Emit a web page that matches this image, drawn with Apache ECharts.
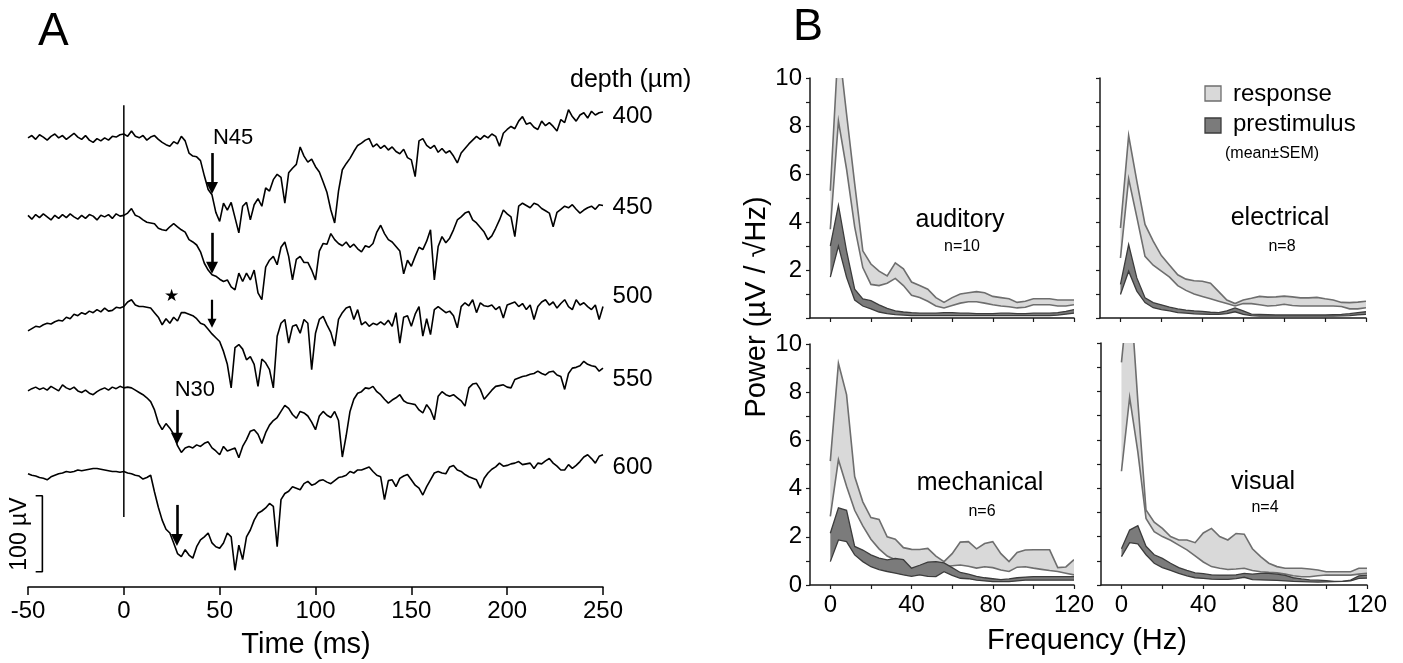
<!DOCTYPE html>
<html><head><meta charset="utf-8">
<script src="https://cdn.jsdelivr.net/npm/echarts@6/dist/echarts.min.js"></script>
<style>html,body{margin:0;padding:0;background:#fff}#c{width:1403px;height:663px}</style>
</head><body><div id="c"></div>
<script>
// ================= DATA =================
// Panel A: field potentials (µV, relative to each trace's pre-stimulus level), sampled every 2 ms from -50 to 250 ms
const timeStart = -50, timeStep = 2;
const depthLabels = ['400', '450', '500', '550', '600'];
const trace400 = [0,3,-2,4,1,-3,2,5,0,3, -2,2,6,1,-2,3,-3,-6,-1,-4, 0,-3,2,1,4,5,2,9,2,0,
  3,-3,1,3,-2,-6,-9,-11,-5,-8, 2,-4,-20,-24,-25,-30,-50,-68,-75,-98,
  -110,-86,-95,-85,-105,-125,-90,-85,-108,-88, -80,-90,-66,-70,-55,-48,-52,-86,-46,-40,
  -35,-12,-24,-32,-28,-38,-45,-58,-72,-95, -112,-70,-42,-34,-27,-18,-10,-7,-3,-1,
  -12,-8,-14,-10,-16,-12,-18,-21,-15,-26, -29,-51,-4,-1,-10,-14,-10,-19,-14,-20,
  -17,-24,-33,-20,-14,-8,-3,2,-2,3, 0,5,2,-11,6,11,15,12,22,28,
  18,20,14,11,22,16,20,15,9,24, 20,37,28,22,30,33,26,35,30,33, 34];
const trace450 = [2,-3,3,-1,4,0,-4,2,-2,3, -1,4,0,-3,2,-2,3,1,-4,2, 0,3,-2,4,1,2,5,11,2,0,
  -4,-7,-8,-9,-15,-17,-18,-13,-9,-13, -17,-20,-30,-33,-37,-46,-61,-70,-76,-78,
  -82,-85,-83,-92,-96,-74,-85,-74,-83,-70, -100,-109,-66,-57,-52,-63,-40,-33,-52,-83,
  -56,-52,-60,-60,-70,-83,-45,-35,-36,-22, -30,-35,-38,-33,-40,-36,-42,-46,-38,-40,
  -35,-20,-11,-22,-30,-33,-39,-45,-75,-57, -65,-52,-40,-43,-32,-17,-83,-39,-26,-34,
  -28,-17,-4,0,5,7,-4,-8,-14,-20, -30,-25,-15,-4,9,4,0,-26,14,18,
  15,12,18,16,11,8,5,-13,6,10, 14,12,16,10,5,9,12,14,10,16, 15];
const trace500 = [-28,-25,-22,-23,-20,-18,-19,-16,-14,-15, -10,-12,-6,-8,-4,-6,-2,-4,0,-3, 2,-2,-1,3,2,4,10,13,6,4,
  4,3,2,-4,-10,-20,-12,-18,-10,-15, -4,-4,-6,-8,-12,-18,-20,-26,-32,-37,
  -42,-55,-72,-103,-50,-46,-52,-66,-62,-72, -101,-65,-70,-79,-103,-35,-18,-13,-44,-22,
  -20,-31,-13,-18,-79,-31,-13,-9,-20,-30, -48,-13,-4,2,4,-13,0,-20,-16,-22,
  -18,-20,-16,-20,-14,-22,-4,-44,-10,-8, -22,-6,4,-35,-12,-33,0,4,0,-4,
  -2,-8,-24,4,9,5,13,-4,9,5, 4,6,0,4,-11,6,8,10,4,8,
  0,6,-13,4,10,13,6,10,2,8, 13,4,0,13,6,9,4,0,6,-13, 4];
const trace550 = [-3,0,2,-1,1,-2,3,0,-3,5, 1,-1,2,-3,-5,-2,-6,-8,-4,-1, 1,-2,2,0,3,1,2,1,-2,-5,
  -8,-12,-17,-28,-45,-54,-46,-52,-60,-75, -84,-78,-76,-78,-74,-76,-72,-70,-78,-82,
  -87,-76,-82,-80,-78,-91,-76,-67,-56,-54, -60,-72,-58,-48,-42,-38,-30,-22,-26,-34,
  -39,-30,-32,-36,-44,-54,-36,-30,-35,-38, -30,-42,-90,-62,-30,-14,-6,-4,1,0,
  3,-4,-8,-14,-19,-15,-12,-8,-16,-19, -20,-21,-28,-32,-21,-28,-41,-10,-4,-8,
  -10,-8,-12,-16,-23,1,6,7,-1,-14, -8,-2,3,4,5,2,1,12,14,16,
  17,19,20,23,20,18,22,23,18,16, -1,20,27,28,30,36,32,30,29,23, 27];
const trace600 = [-1,-3,-4,-6,-7,-9,-5,-3,-1,0, 2,1,2,4,3,4,5,6,6,5, 4,3,2,2,1,2,0,-1,-3,-4,
  -8,-6,-3,-25,-45,-62,-74,-79,-92,-106, -110,-101,-108,-112,-97,-88,-84,-79,-92,-97,
  -99,-92,-79,-84,-128,-95,-114,-84,-75,-62, -53,-50,-46,-40,-44,-97,-35,-27,-24,-18,
  -20,-22,-14,-11,-16,-14,-10,-9,-12,-14, -10,-6,-5,-3,2,0,4,4,6,8,
  2,-3,-5,-35,-10,-9,-18,-7,-4,-2, -9,-16,-20,-29,-18,-9,0,2,0,-1,
  8,10,4,2,-2,-5,-7,-9,-20,-7, 0,5,8,13,9,10,12,13,15,11,
  12,13,6,13,12,16,19,13,9,4, 4,11,6,10,15,21,24,19,13,22, 24];
const timeTicks = [-50, 0, 50, 100, 150, 200, 250];

// Panel B: power spectra, mean ± SEM bands (µV/√Hz) at 4-Hz bins
const freq = [0,4,8,12,16,20,24,28,32,36,40,44,48,52,56,60,64,68,72,76,80,84,88,92,96,100,104,108,112,116,120];
const audRespHi = [5.3,11.5,8.5,5.6,2.8,2.25,1.95,1.75,2.3,2.05,1.5,1.35,1.2,0.85,0.65,0.85,1.0,1.05,1.1,1.05,0.9,0.85,0.8,0.65,0.7,0.8,0.8,0.8,0.75,0.75,0.75];
const audRespLo = [3.7,8.2,6.2,3.8,2.1,1.4,1.35,1.45,1.65,1.35,0.95,0.85,0.7,0.5,0.42,0.52,0.62,0.68,0.68,0.62,0.55,0.5,0.47,0.42,0.45,0.55,0.55,0.55,0.5,0.5,0.55];
const audPreHi = [3.0,4.7,2.8,1.2,0.8,0.72,0.55,0.4,0.3,0.25,0.22,0.2,0.2,0.2,0.22,0.22,0.2,0.2,0.18,0.18,0.18,0.2,0.2,0.18,0.18,0.2,0.2,0.2,0.22,0.28,0.35];
const audPreLo = [1.7,3.0,1.7,0.75,0.5,0.38,0.25,0.18,0.14,0.12,0.1,0.1,0.1,0.1,0.1,0.1,0.1,0.1,0.1,0.1,0.1,0.1,0.1,0.1,0.1,0.1,0.1,0.1,0.12,0.16,0.2];

const eleRespHi = [3.75,7.6,5.7,3.9,3.2,2.6,2.2,1.8,1.62,1.55,1.53,1.45,1.1,0.75,0.6,0.75,0.82,0.9,0.87,0.88,0.91,0.88,0.84,0.84,0.86,0.8,0.75,0.65,0.64,0.66,0.7];
const eleRespLo = [2.5,5.8,4.2,2.57,2.2,1.95,1.7,1.35,1.15,1.0,0.9,0.8,0.7,0.6,0.5,0.6,0.6,0.55,0.5,0.52,0.57,0.52,0.5,0.5,0.5,0.5,0.5,0.48,0.38,0.38,0.43];
const elePreHi = [1.4,3.06,1.67,0.84,0.64,0.55,0.45,0.38,0.33,0.3,0.28,0.24,0.22,0.3,0.42,0.3,0.16,0.15,0.14,0.13,0.13,0.13,0.13,0.13,0.13,0.13,0.14,0.15,0.18,0.22,0.26];
const elePreLo = [0.98,1.95,1.12,0.64,0.43,0.35,0.3,0.22,0.2,0.17,0.16,0.15,0.15,0.18,0.26,0.15,0.1,0.08,0.08,0.08,0.08,0.08,0.08,0.08,0.08,0.08,0.08,0.09,0.1,0.13,0.15];

const mecRespHi = [5.14,9.2,7.9,4.5,3.45,2.8,2.72,2.0,1.9,1.55,1.48,1.47,1.52,1.2,0.97,1.3,1.78,1.8,1.5,1.72,1.8,1.3,0.97,1.35,1.45,1.46,1.46,1.46,0.72,0.75,1.05];
const mecRespLo = [2.85,5.2,4.1,3.1,2.45,1.9,1.5,1.2,1.05,0.85,0.56,0.68,0.76,0.72,0.76,0.8,0.83,0.78,0.7,0.76,0.72,0.62,0.56,0.74,0.76,0.7,0.65,0.6,0.56,0.49,0.42];
const mecPreHi = [2.15,3.2,3.1,1.6,1.45,1.25,1.12,1.04,1.1,1.05,0.7,0.82,0.95,0.97,0.92,0.72,0.52,0.45,0.36,0.3,0.26,0.22,0.25,0.3,0.33,0.35,0.35,0.35,0.35,0.35,0.35];
const mecPreLo = [0.97,1.87,1.8,1.25,0.97,0.76,0.64,0.56,0.49,0.42,0.36,0.42,0.36,0.35,0.55,0.4,0.28,0.26,0.2,0.17,0.14,0.14,0.14,0.17,0.2,0.2,0.2,0.2,0.2,0.2,0.2];

const visRespHi = [9.2,12.6,7.6,3.1,2.6,2.34,2.0,1.86,1.86,1.75,2.15,2.34,2.0,1.86,2.13,2.1,1.5,1.17,0.9,0.76,0.69,0.69,0.69,0.66,0.62,0.55,0.55,0.55,0.55,0.69,0.69];
const visRespLo = [4.7,7.75,5.5,2.75,2.2,2.0,1.85,1.65,1.45,1.2,0.95,0.76,0.69,0.64,0.66,0.69,0.6,0.55,0.52,0.5,0.45,0.38,0.34,0.34,0.38,0.41,0.41,0.41,0.41,0.45,0.48];
const visPreHi = [1.5,2.27,2.45,1.6,1.25,1.1,0.9,0.72,0.6,0.5,0.47,0.42,0.41,0.41,0.42,0.48,0.45,0.48,0.48,0.45,0.4,0.3,0.25,0.21,0.2,0.18,0.15,0.15,0.2,0.38,0.41];
const visPreLo = [1.17,1.75,1.7,1.25,0.9,0.72,0.6,0.48,0.38,0.3,0.27,0.24,0.23,0.23,0.26,0.32,0.22,0.21,0.2,0.19,0.17,0.15,0.14,0.13,0.12,0.13,0.14,0.15,0.17,0.27,0.28];

const panelNames = ['auditory', 'electrical', 'mechanical', 'visual'];
const panelN = ['n=10', 'n=8', 'n=6', 'n=4'];
const freqTicks = [0, 20, 40, 60, 80, 100, 120];
const freqLabels = [0, 40, 80, 120];

// ================= LAYOUT / STYLE =================
const FONT = '"Liberation Sans", Arial, Helvetica, sans-serif';
const traceOffsets = [591, 487, 365, 261, 150];       // vertical placement of each trace (µV units)
const stimLine = { t: 0, from: 92, to: 634 };
const scaleBar = { t: -42.5, tickT: -46, from: 20, len: 100 };
const arrows = [
  { k: 0, t: 46, from: -20, to: -66, w: 2.6, s: 12 },
  { k: 1, t: 46, from: -21, to: -67, w: 2.6, s: 12 },
  { k: 2, t: 46, from: 13, to: -18, w: 2.2, s: 9 },
  { k: 3, t: 27.7, from: -28, to: -66, w: 2.6, s: 12 },
  { k: 4, t: 27.7, from: -42, to: -88, w: 2.6, s: 12 }
];
const notes = [
  { text: 'N45', k: 0, t: 46.5, rel: 0, size: 22 },
  { text: 'N30', k: 3, t: 26.5, rel: -2, size: 22 },
  { text: '\u2605', k: 2, t: 21, rel: 17, size: 17 }
];
const depthLabelRel = [28, 13, 17, 12, 7];

const RESP_FILL = '#d9d9d9', RESP_LINE = '#6e6e6e';
const PRE_FILL = '#7b7b7b', PRE_LINE = '#3c3c3c';

const chart = echarts.init(document.getElementById('c'));
const times = trace400.map((_, i) => timeStart + i * timeStep);
const traces = [trace400, trace450, trace500, trace550, trace600];

const gridA = { left: 28, top: 93, width: 575, height: 494 };
const bGrids = [
  { left: 810, top: 78, width: 264, height: 240 },
  { left: 1100, top: 78, width: 266, height: 240 },
  { left: 810, top: 344, width: 264, height: 241 },
  { left: 1101, top: 343, width: 266, height: 242 }
];
const bYLabels = [[2, 4, 6, 8, 10], null, [0, 2, 4, 6, 8, 10], null];
const bXShow = [false, false, true, true];
const bands = [
  [audRespLo, audRespHi, audPreLo, audPreHi],
  [eleRespLo, eleRespHi, elePreLo, elePreHi],
  [mecRespLo, mecRespHi, mecPreLo, mecPreHi],
  [visRespLo, visRespHi, visPreLo, visPreHi]
];

const xAxes = [{
  gridIndex: 0, type: 'value', min: -50, max: 250, interval: 50,
  axisLine: { onZero: false, lineStyle: { color: '#000', width: 1.5 } },
  axisTick: { inside: false, length: 8, lineStyle: { color: '#000', width: 1.5 } },
  axisLabel: { color: '#000', fontSize: 24, fontFamily: FONT, margin: 12 },
  splitLine: { show: false }
}];
const yAxes = [{ gridIndex: 0, type: 'value', min: 0, max: 650, show: false }];
bGrids.forEach((g, i) => {
  xAxes.push({
    gridIndex: i + 1, type: 'value', min: -10, max: 120,
    axisLine: { onZero: false, lineStyle: { color: '#1a1a1a', width: 1.5 } },
    axisTick: { inside: false, length: 4, customValues: freqTicks, lineStyle: { color: '#1a1a1a', width: 1.2 } },
    axisLabel: bXShow[i] ? { color: '#000', fontSize: 24, fontFamily: FONT, margin: 8, customValues: freqLabels } : { show: false },
    splitLine: { show: false }
  });
  yAxes.push({
    gridIndex: i + 1, type: 'value', min: 0, max: 10, interval: 1,
    axisLine: { show: true, onZero: false, lineStyle: { color: '#1a1a1a', width: 1.5 } },
    axisTick: { inside: false, length: 4, lineStyle: { color: '#1a1a1a', width: 1.2 } },
    axisLabel: bYLabels[i] ? { color: '#000', fontSize: 24, fontFamily: FONT, margin: 8, customValues: bYLabels[i] } : { show: false },
    splitLine: { show: false }
  });
});

const series = [];
traces.forEach((tr, k) => {
  series.push({
    type: 'line', xAxisIndex: 0, yAxisIndex: 0, symbol: 'none', clip: false,
    data: tr.map((v, i) => [times[i], v + traceOffsets[k]]),
    lineStyle: { color: '#000', width: 1.6 }, silent: true,
    markLine: {
      silent: true, symbol: ['none', 'triangle'],
      data: arrows.filter(a => a.k === k).map(a => [
        { coord: [a.t, traceOffsets[k] + a.from], symbolSize: 0 },
        { coord: [a.t, traceOffsets[k] + a.to], symbolSize: a.s, lineStyle: { width: a.w, color: '#000', type: 'solid' } }
      ]),
      label: { show: false }, lineStyle: { color: '#000', width: 2.6, type: 'solid' }
    }
  });
});
series.push({
  type: 'line', xAxisIndex: 0, yAxisIndex: 0, symbol: 'none', clip: false, silent: true,
  data: [[stimLine.t, stimLine.from], [stimLine.t, stimLine.to]],
  lineStyle: { color: '#000', width: 1.5 }
});
series.push({
  type: 'line', xAxisIndex: 0, yAxisIndex: 0, symbol: 'none', clip: false, silent: true,
  data: [[scaleBar.tickT, scaleBar.from], [scaleBar.t, scaleBar.from], [scaleBar.t, scaleBar.from + scaleBar.len], [scaleBar.tickT, scaleBar.from + scaleBar.len]],
  lineStyle: { color: '#000', width: 1.6 }
});

function bandSeries(ax, lo, hi, fill, stroke, lw) {
  return {
    type: 'custom', xAxisIndex: ax, yAxisIndex: ax, clip: true, silent: true,
    data: [[0, 0]],
    renderItem: (params, api) => {
      const top = freq.map((f, i) => api.coord([f, hi[i]]));
      const bot = freq.map((f, i) => api.coord([f, lo[i]]));
      return {
        type: 'group', children: [
          { type: 'polygon', shape: { points: top.concat(bot.slice().reverse()) }, style: { fill: fill, stroke: null } },
          { type: 'polyline', shape: { points: top }, style: { stroke: stroke, lineWidth: lw, fill: null } },
          { type: 'polyline', shape: { points: bot }, style: { stroke: stroke, lineWidth: lw, fill: null } }
        ]
      };
    }
  };
}
bands.forEach((b, i) => {
  series.push(bandSeries(i + 1, b[0], b[1], RESP_FILL, RESP_LINE, 1.6));
  series.push(bandSeries(i + 1, b[2], b[3], PRE_FILL, PRE_LINE, 1.3));
});

chart.setOption({
  animation: false,
  grid: [gridA].concat(bGrids),
  xAxis: xAxes, yAxis: yAxes, series: series
});

// ---------- text & annotations ----------
function toPx(t, v) { return chart.convertToPixel({ gridIndex: 0 }, [t, v]); }
function txt(x, y, text, size, align, extra) {
  return Object.assign({
    type: 'text', x: x, y: y, silent: true,
    style: { text: text, fill: '#000', font: size + 'px ' + FONT, textAlign: align || 'center', textVerticalAlign: 'middle' }
  }, extra || {});
}
const g = [];
notes.forEach(n => { const p = toPx(n.t, traceOffsets[n.k] + n.rel); g.push(txt(p[0], p[1], n.text, n.size, 'left')); });
depthLabels.forEach((d, k) => { const p = toPx(255, traceOffsets[k] + depthLabelRel[k]); g.push(txt(p[0], p[1], d, 24, 'left')); });
g.push(txt(570, 80, 'depth (\u00b5m)', 25, 'left'));
g.push(txt(306, 645, 'Time (ms)', 29, 'center'));
g.push(txt(20, 534, '100 \u00b5V', 23, 'center', { rotation: Math.PI / 2 }));
g.push(txt(38, 32, 'A', 46, 'left'));
g.push(txt(793, 28, 'B', 45, 'left'));
g.push(txt(757, 307, 'Power (\u00b5V / \u221aHz)', 29, 'center', { rotation: Math.PI / 2 }));
g.push(txt(1087, 641, 'Frequency (Hz)', 29, 'center'));
const namePos = [[960, 220, 247], [1280, 218, 247], [980, 483, 512], [1263, 482, 508]];
namePos.forEach((p, i) => { g.push(txt(p[0], p[1], panelNames[i], 25, 'center')); g.push(txt(p[0] + 2, p[2], panelN[i], 16, 'center')); });
// legend
g.push({ type: 'rect', shape: { x: 1205, y: 86, width: 16, height: 15 }, style: { fill: RESP_FILL, stroke: RESP_LINE, lineWidth: 1.3 }, silent: true });
g.push({ type: 'rect', shape: { x: 1205, y: 118, width: 16, height: 15 }, style: { fill: PRE_FILL, stroke: PRE_LINE, lineWidth: 1.3 }, silent: true });
g.push(txt(1233, 94, 'response', 24, 'left'));
g.push(txt(1233, 124, 'prestimulus', 24, 'left'));
g.push(txt(1225, 154, '(mean\u00b1SEM)', 16, 'left'));
chart.setOption({ graphic: { elements: g } });
</script></body></html>
